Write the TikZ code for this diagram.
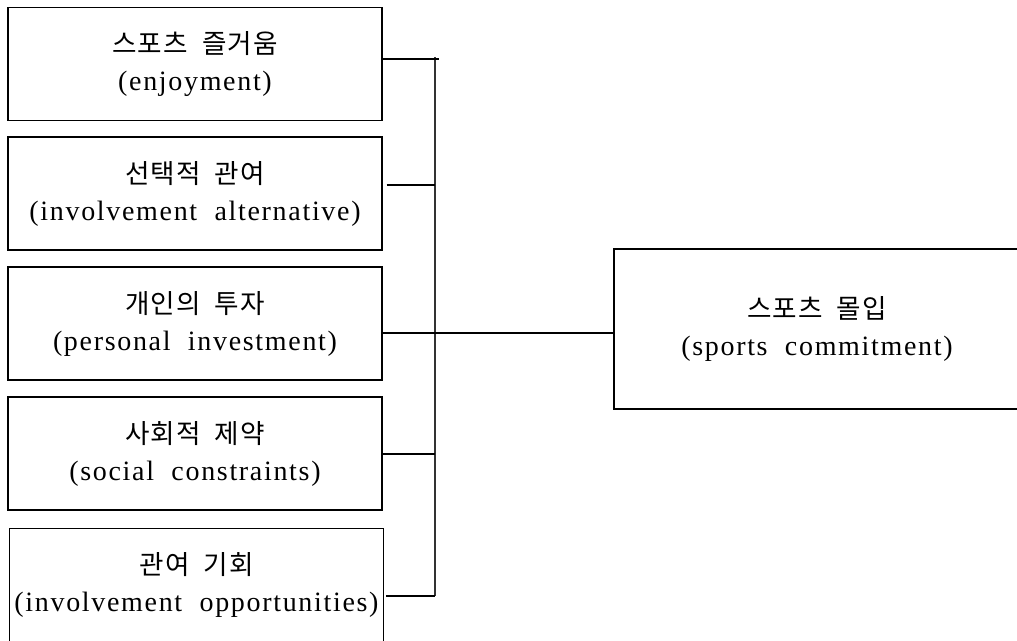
\documentclass[tikz,border=0pt]{standalone}
\usepackage{fontspec}
\setmainfont[LetterSpace=6]{Liberation Serif}
\newfontfamily\kofont[LetterSpace=4,Scale=0.95]{Noto Sans CJK KR}
\usetikzlibrary{
  calc,
  positioning
}
\tikzset{
  factor/.style={draw, line width=1.1pt, inner sep=0pt, align=center,
    minimum width=280.5pt, minimum height=85pt,
    font=\fontsize{21}{27.75}\selectfont},
  link/.style={line width=1.1pt},
  bus/.style={line width=1.6pt, draw=black!80}
}
\newcommand{\ko}[1]{{\kofont #1}}

\begin{document}
\begin{tikzpicture}[x=0.75pt, y=-0.75pt]
            \useasboundingbox (0, 0) rectangle (1017, 640);
            \node[factor] (enjoy) at (195, 64) {\ko{스포츠\ \ 즐거움}\\(enjoyment)};
            \node[factor] (altern) at (195, 193.5) {\ko{선택적\ \ 관여}\\(involvement\ \ alternative)};
            \node[factor] (invest) at (195, 323.5) {\ko{개인의\ \ 투자}\\(personal\ \ investment)};
            \node[factor] (constr) at (195, 453.5) {\ko{사회적\ \ 제약}\\(social\ \ constraints)};
            \node[factor] (oppor) at (196.5, 585) {\ko{관여\ \ 기회}\\(involvement\ \ opportunities)};
            \node[factor, minimum width=304.5pt, minimum height=120pt] (commit) at (817, 329)
              {\ko{스포츠\ \ 몰입}\\(sports\ \ commitment)};
            % the bus that joins the five factors
            \coordinate (top) at (435, 57);
            \coordinate (bottom) at (435, 596);
            \draw[bus] (top) -- (bottom);
            \draw[link] (enjoy.east |- 0, 59) -- ($(top |- 0, 59) + (4, 0)$);
            \draw[link] ($(altern.east |- 0, 185) + (4, 0)$) -- (top |- 0, 185);
            \draw[link] (invest.east |- 0, 333) -- (commit.west |- 0, 333);
            \draw[link] (constr.east |- 0, 454) -- (top |- 0, 454);
            \draw[link] ($(oppor.east |- 0, 596) + (2, 0)$) -- (bottom);
          \end{tikzpicture}
\end{document}
